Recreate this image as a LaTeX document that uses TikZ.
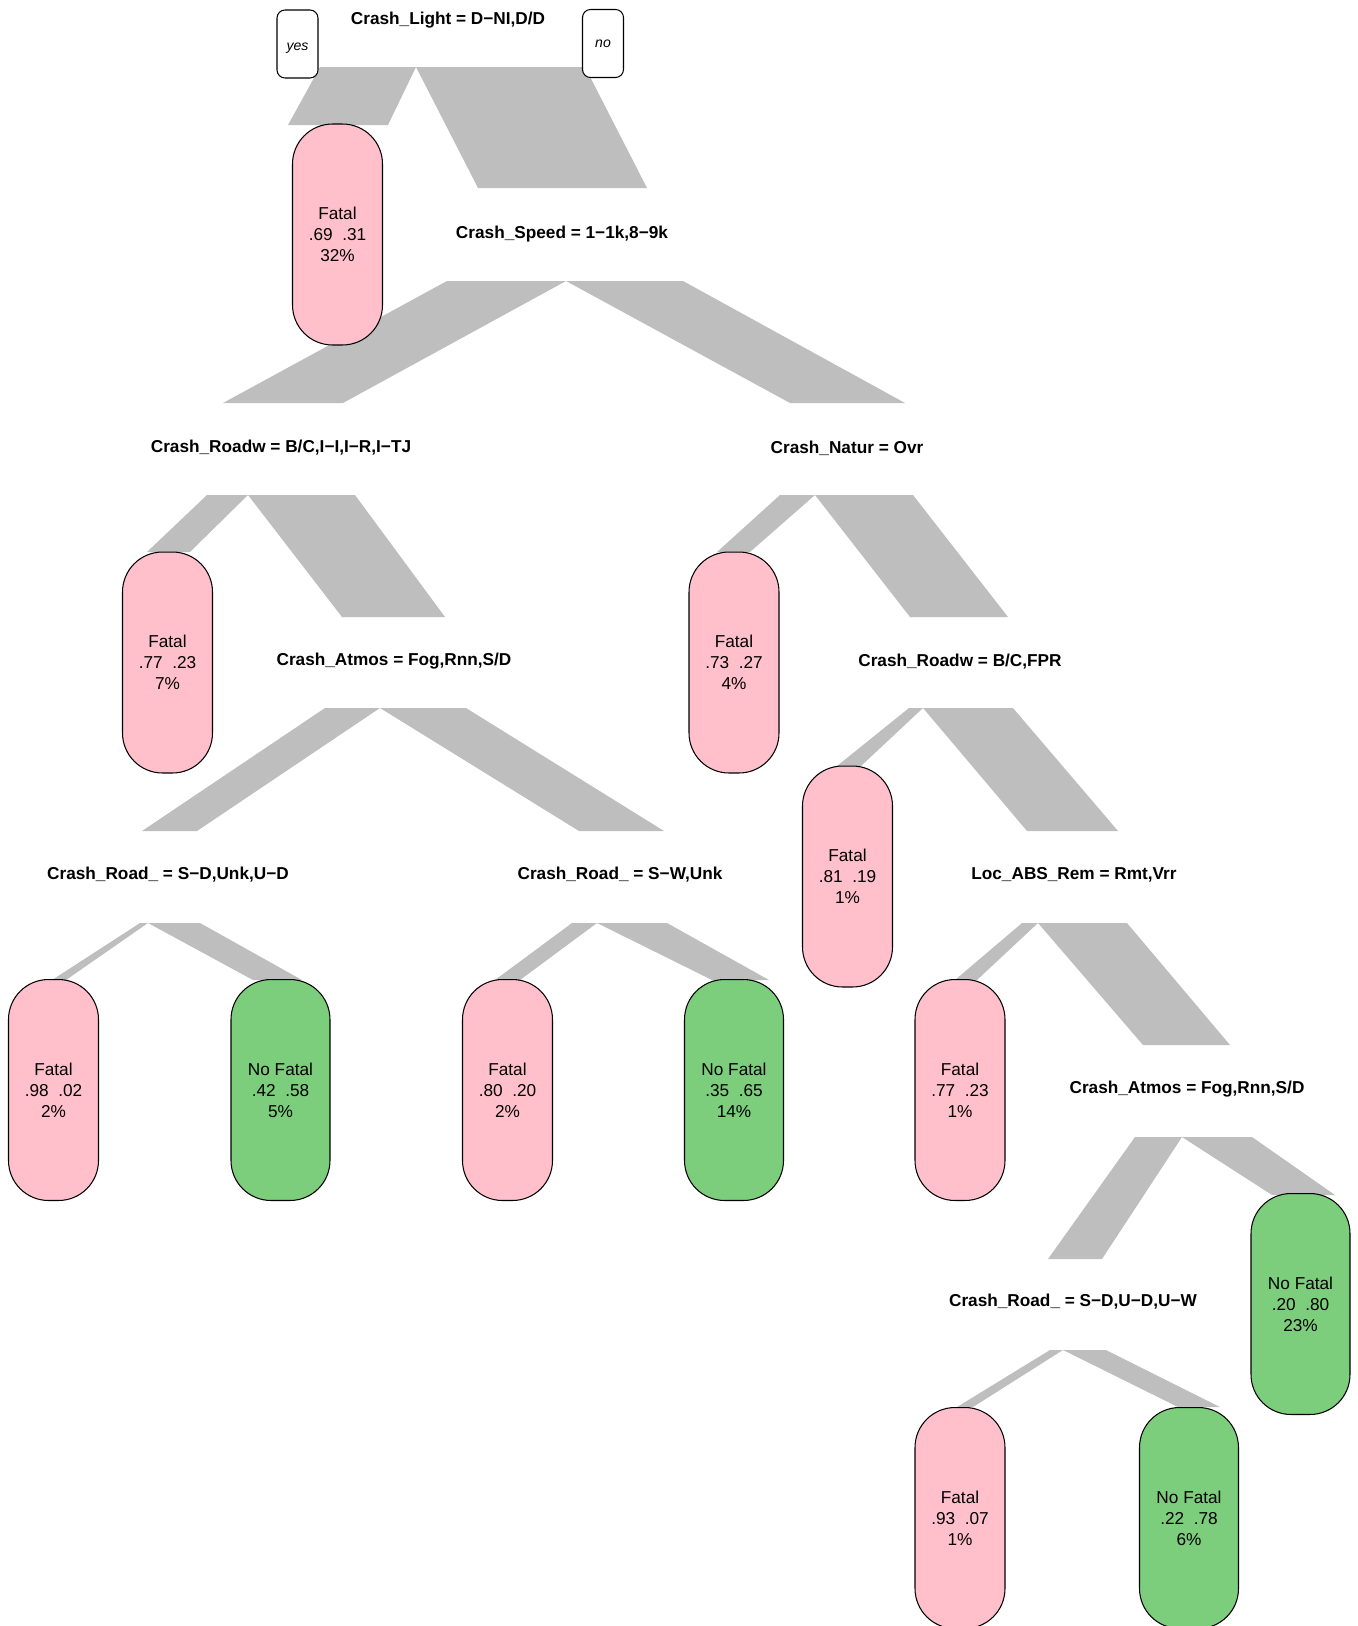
\documentclass[tikz,border=0pt]{standalone}
\usepackage{fontspec}
\setmainfont{Liberation Sans}

\definecolor{fatalpink}{RGB}{255,192,203}
\definecolor{nofatalgreen}{RGB}{124,205,124}
\definecolor{branchgray}{RGB}{190,190,190}

\newcommand{\leaffont}{\fontsize{9.8pt}{11.9pt}\selectfont}
\newcommand{\splitfont}{\fontsize{9.8pt}{11.9pt}\selectfont\bfseries}
\newcommand{\sidefont}{\fontsize{8pt}{9pt}\selectfont\itshape}

% one gray branch: top-left x, top-right x, top y, bottom y, bottom-left x, bottom-right x
\newcommand{\branchband}[6]{\fill[branch] (#1,#3) -- (#2,#3) -- (#6,#4) -- (#5,#4) -- cycle;}

\tikzset{
  branch/.style = {fill = branchgray},
  leaf/.style = {draw, line width = 0.6pt, rounded corners = 0.8cm, minimum height = 4.42cm, inner sep = 0pt, align = center, font = \leaffont},
  fatal/.style = {leaf, fill = fatalpink, minimum width = 1.8cm},
  nofatal/.style = {leaf, fill = nofatalgreen, minimum width = 1.98cm},
  split/.style = {font = \splitfont},
  side/.style = {draw, fill = white, line width = 0.6pt, rounded corners = 0.16cm, minimum width = 0.82cm, minimum height = 1.36cm, inner sep = 0pt, font = \sidefont}
}

\begin{document}
\begin{tikzpicture}[x = 0.02cm, y = -0.02cm]
\useasboundingbox (0, 0) rectangle (1357, 1626);

% branches
\branchband{320}{416}{67}{125}{288}{388}
\branchband{416}{585}{67}{188}{478}{647}
\branchband{447}{566}{281}{403}{223}{343}
\branchband{566}{683}{281}{403}{790}{905}
\branchband{207}{248}{495}{552}{147}{190}
\branchband{248}{355}{495}{617}{342}{445}
\branchband{780}{815}{495}{552}{717}{750}
\branchband{815}{913}{495}{617}{910}{1008}
\branchband{325}{380}{708}{831}{142}{197}
\branchband{380}{466}{708}{831}{579}{664}
\branchband{909}{923}{708}{766}{837}{861}
\branchband{923}{1013}{708}{831}{1027}{1118}
\branchband{140}{148}{923}{980}{52}{66}
\branchband{148}{200}{923}{980}{253}{302}
\branchband{572}{597}{923}{980}{495}{520}
\branchband{597}{667}{923}{980}{712}{769}
\branchband{1022}{1038}{923}{980}{955}{977}
\branchband{1038}{1127}{923}{1045}{1143}{1230}
\branchband{1135}{1182}{1137}{1259}{1048}{1102}
\branchband{1182}{1252}{1137}{1195}{1272}{1335}
\branchband{1050}{1063}{1350}{1407}{957}{973}
\branchband{1063}{1106}{1350}{1407}{1178}{1220}

% yes / no
\node[side] (yes) at (297.5, 44) {\raisebox{-2.3pt}[\height][\depth]{yes}};
\node[side] (no) at (603, 43.5) {no};

% splits
\node[split] (light) at (448, 20) {Crash\_Light = D−NI,D/D};
\node[split] (speed) at (562, 234) {Crash\_Speed = 1−1k,8−9k};
\node[split] (roadw) at (281, 448) {Crash\_Roadw = B/C,I−I,I−R,I−TJ};
\node[split] (natur) at (847, 448) {Crash\_Natur = Ovr};
\node[split] (atmos) at (394, 661) {Crash\_Atmos = Fog,Rnn,S/D};
\node[split] (roadwb) at (960, 662) {Crash\_Roadw = B/C,FPR};
\node[split] (roada) at (168, 875) {Crash\_Road\_ = S−D,Unk,U−D};
\node[split] (roadb) at (620, 875) {Crash\_Road\_ = S−W,Unk};
\node[split] (absrem) at (1074, 875) {Loc\_ABS\_Rem = Rmt,Vrr};
\node[split] (atmosb) at (1187, 1089) {Crash\_Atmos = Fog,Rnn,S/D};
\node[split] (roadc) at (1073, 1302) {Crash\_Road\_ = S−D,U−D,U−W};

% leaves
\node[fatal] (l1) at (337.5, 234.5) {Fatal\\.69~~.31\\32\%};
\node[fatal] (l2) at (167.5, 662.5) {Fatal\\.77~~.23\\7\%};
\node[fatal] (l3) at (53.5, 1090) {Fatal\\.98~~.02\\2\%};
\node[nofatal] (l4) at (280.5, 1090) {No Fatal\\.42~~.58\\5\%};
\node[fatal] (l5) at (507.5, 1090) {Fatal\\.80~~.20\\2\%};
\node[nofatal] (l6) at (734, 1090) {No Fatal\\.35~~.65\\14\%};
\node[fatal] (l7) at (734, 662.5) {Fatal\\.73~~.27\\4\%};
\node[fatal] (l8) at (847.5, 876.5) {Fatal\\.81~~.19\\1\%};
\node[fatal] (l9) at (960, 1090) {Fatal\\.77~~.23\\1\%};
\node[nofatal] (l10) at (1300.5, 1304) {No Fatal\\.20~~.80\\23\%};
\node[fatal] (l11) at (960, 1518) {Fatal\\.93~~.07\\1\%};
\node[nofatal] (l12) at (1189, 1518) {No Fatal\\.22~~.78\\6\%};

\end{tikzpicture}
\end{document}
